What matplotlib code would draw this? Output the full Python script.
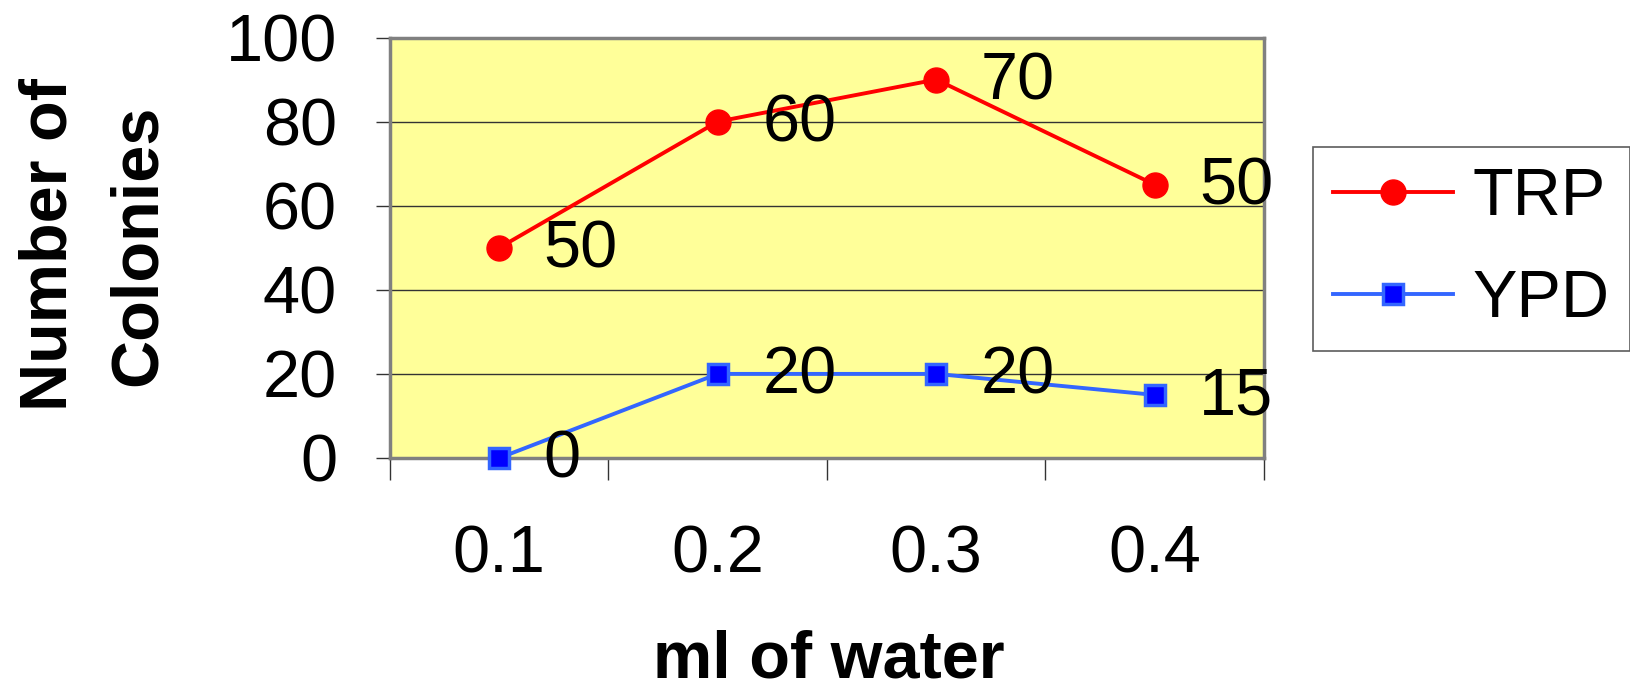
import matplotlib.pyplot as plt
from matplotlib.ticker import FixedLocator

plt.rcParams['font.family'] = ['Liberation Sans', 'DejaVu Sans']

categories = ['0.1', '0.2', '0.3', '0.4']
trp = [50, 60, 70, 50]
ypd = [0, 20, 20, 15]
y_ticks = [0, 20, 40, 60, 80, 100]

# stacked line chart: TRP sits on top of YPD
trp_stacked = [a + b for a, b in zip(trp, ypd)]
xs = list(range(len(categories)))

fs = 48
fig = plt.figure(figsize=(16.31, 6.90), dpi=100)
ax = fig.add_axes([390 / 1631, 1 - 458 / 690, 874 / 1631, 420.5 / 690])
ax.set_facecolor('#FFFF99')

l1, = ax.plot(xs, trp_stacked, color='#FF0000', lw=2.8, marker='o', ms=18,
              mfc='#FF0000', mec='#FF0000', label='TRP', clip_on=False, zorder=3)
l2, = ax.plot(xs, ypd, color='#3366FF', lw=2.8, marker='s', ms=15,
              mfc='#0000FF', mec='#3366FF', mew=2.5, label='YPD', clip_on=False, zorder=3)

for x, y, t in zip(xs, trp_stacked, trp):
    ax.annotate(str(t), (x, y), xytext=(32, -2), textcoords='offset points',
                ha='left', va='center', fontsize=fs, zorder=4)
for x, y, t in zip(xs, ypd, ypd):
    ax.annotate(str(t), (x, y), xytext=(32, -2), textcoords='offset points',
                ha='left', va='center', fontsize=fs, zorder=4, annotation_clip=False)

ax.set_xlim(-0.5, 3.5)
ax.set_ylim(0, 100)
ax.set_xticks(xs)
ax.set_xticklabels(categories)
ax.xaxis.set_minor_locator(FixedLocator([-0.5, 0.5, 1.5, 2.5, 3.5]))
ax.tick_params(axis='x', which='major', length=0, pad=48, labelsize=fs)
ax.tick_params(axis='x', which='minor', length=16, width=1, color='#333333')
ax.set_yticks(y_ticks)
ax.tick_params(axis='y', length=10, width=1, pad=28, labelsize=fs, color='#333333')
ax.yaxis.grid(True, color='#333333', lw=1)
ax.set_axisbelow(True)
for s in ax.spines.values():
    s.set_color('#808080')
    s.set_linewidth(2.5)

fig.text(829 / 1631, 1 - 660 / 690, 'ml of water', ha='center', va='center',
         fontsize=fs, fontweight='bold')
fig.text(50 / 1631, 1 - 245 / 690, 'Number of', rotation=90, ha='center', va='center',
         fontsize=fs, fontweight='bold')
fig.text(139 / 1631, 1 - 245 / 690, 'Colonies', rotation=90, ha='center', va='center',
         fontsize=fs, fontweight='bold')

leg = fig.legend(handles=[l1, l2], loc='upper left',
                 bbox_to_anchor=(1313 / 1631, 1 - 147 / 690), fontsize=fs,
                 frameon=True, fancybox=False, handlelength=1.8, handletextpad=0.3,
                 labelspacing=0.6, borderpad=0.3, borderaxespad=0)
leg.get_frame().set_edgecolor('#333333')
leg.get_frame().set_linewidth(1.2)

fig.savefig('out.png', dpi=100)
